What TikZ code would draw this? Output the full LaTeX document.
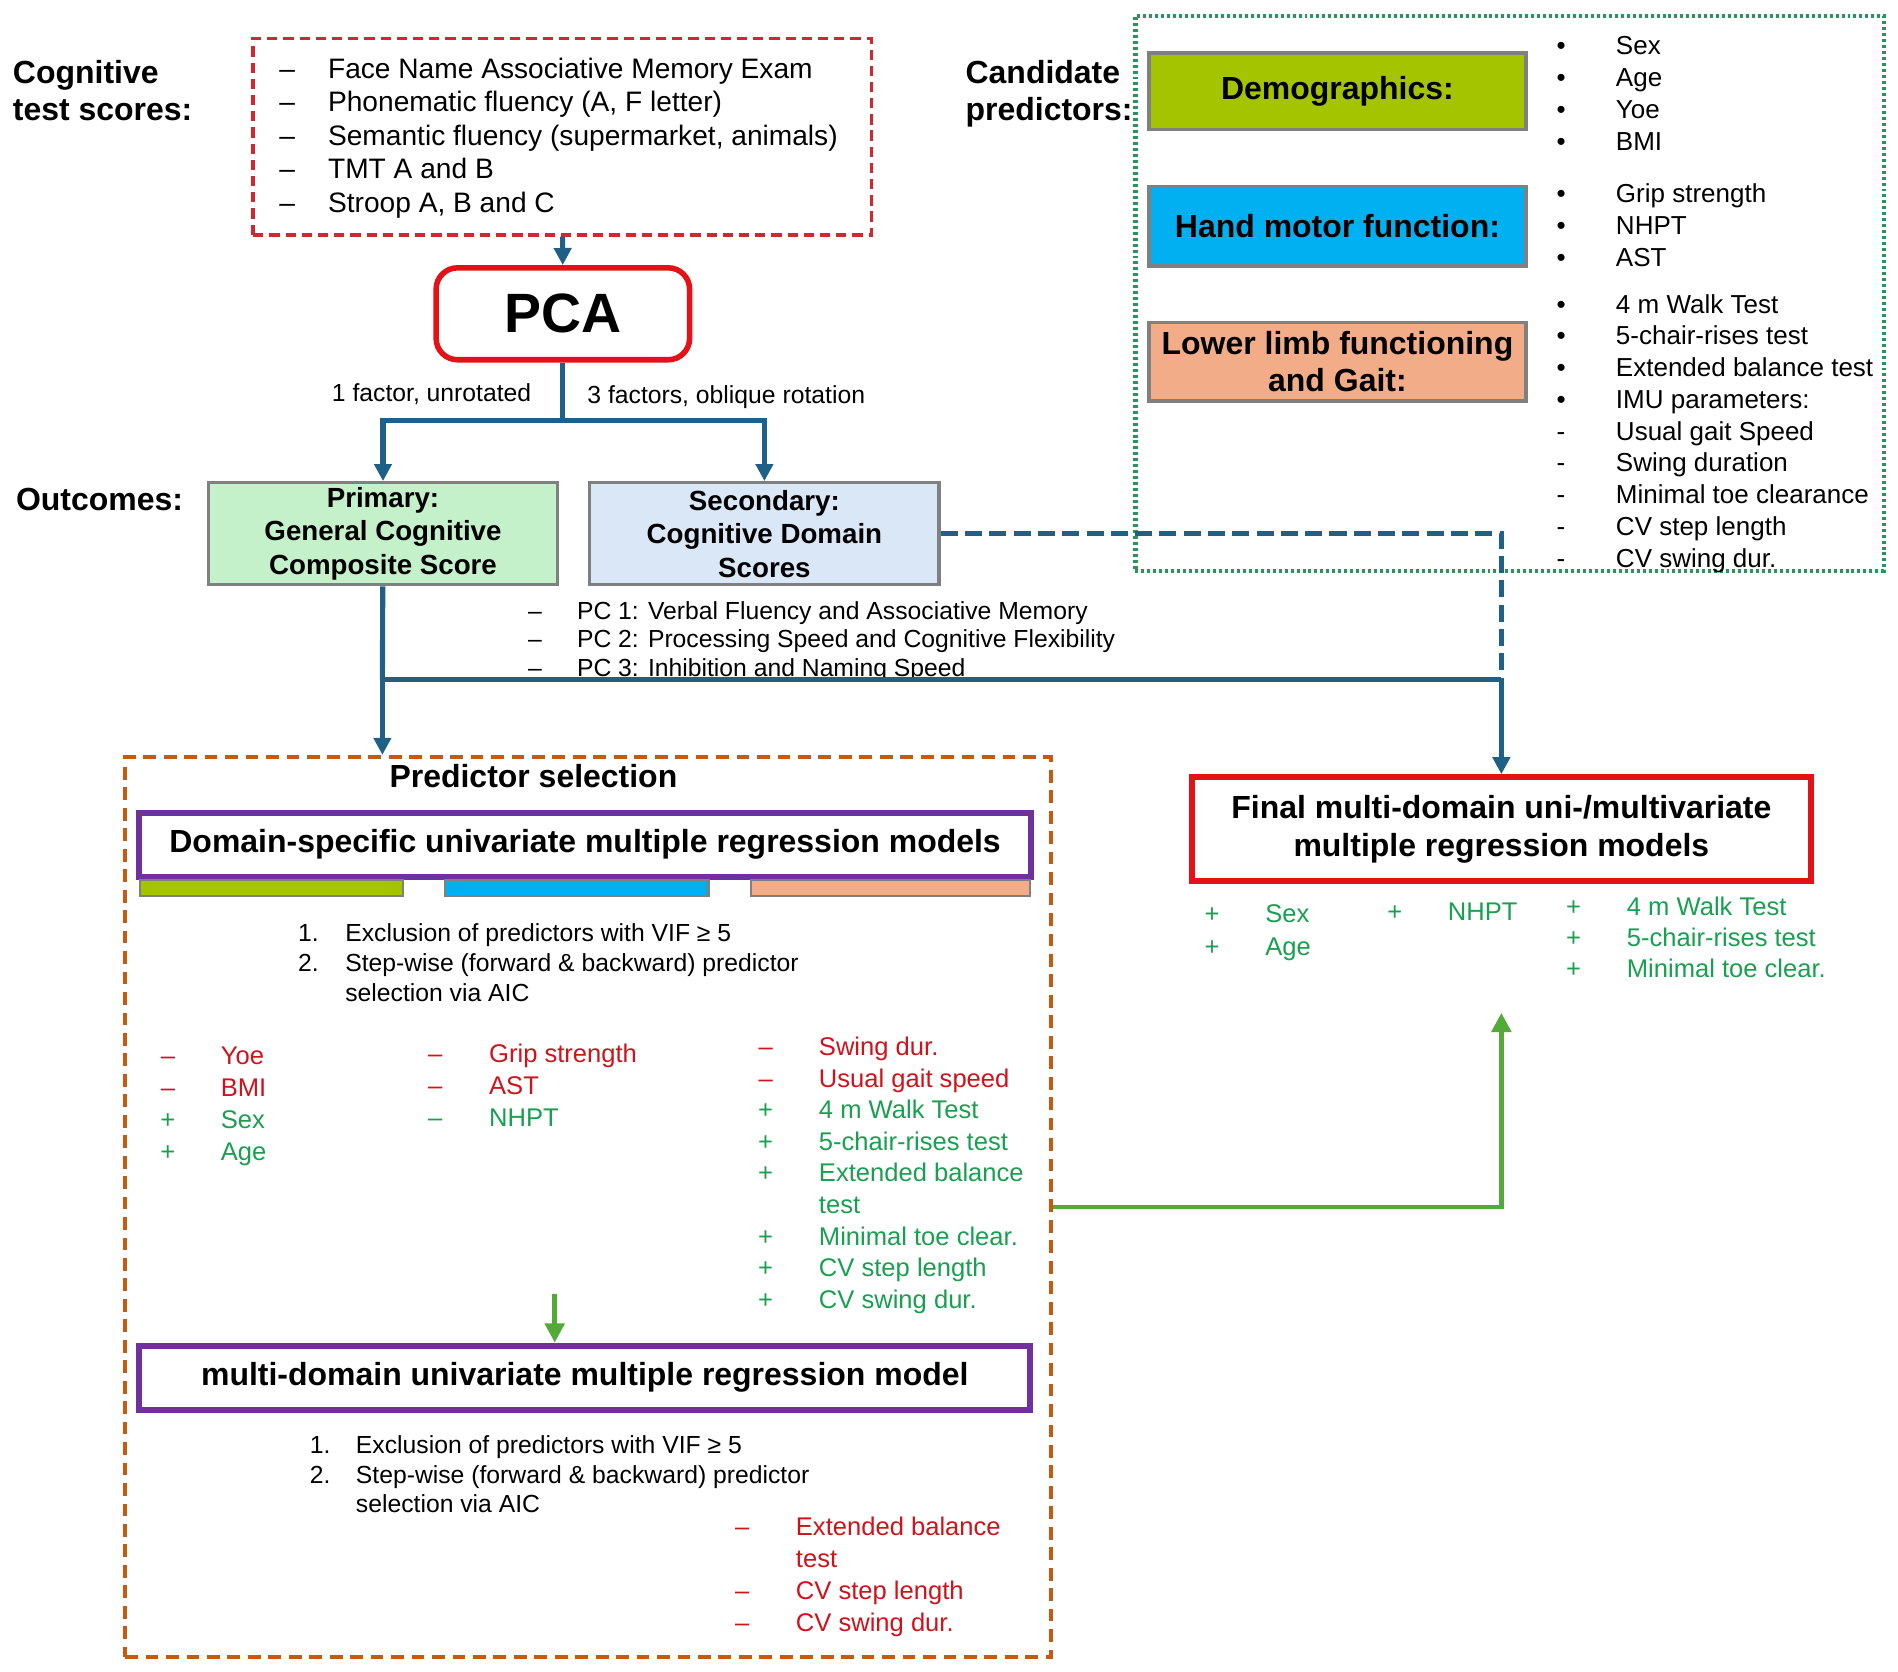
\documentclass[tikz,border=0pt]{standalone}
\usepackage{fontspec}
\setmainfont{Liberation Sans}
\usetikzlibrary{arrows.meta}

\definecolor{flowblue}{RGB}{31,96,134}
\definecolor{flowgreen}{RGB}{84,170,55}
\definecolor{boxgray}{RGB}{128,128,128}
\definecolor{boxred}{RGB}{228,18,22}
\definecolor{dashred}{RGB}{210,40,45}
\definecolor{dotgreen}{RGB}{40,150,90}
\definecolor{selbrown}{RGB}{197,90,17}
\definecolor{modpurple}{RGB}{112,48,160}
\definecolor{demogreen}{RGB}{165,196,0}
\definecolor{handcyan}{RGB}{0,176,240}
\definecolor{limbsalmon}{RGB}{242,172,136}
\definecolor{primgreen}{RGB}{196,240,202}
\definecolor{secblue}{RGB}{218,231,246}
\definecolor{txtred}{RGB}{208,18,27}
\definecolor{txtgreen}{RGB}{24,160,80}

\newcommand{\fsz}[2]{\fontsize{#1}{#2}\selectfont}
\newcommand{\rd}[1]{\textcolor{txtred}{#1}}
\newcommand{\gr}[1]{\textcolor{txtgreen}{#1}}

\begin{document}
\begin{tikzpicture}[x=0.01cm,y=-0.01cm,
    head/.style={anchor=base west,inner sep=0,align=left,font=\bfseries\fsz{7.5}{8.7}},
    txt/.style={anchor=base west,inner sep=0,align=left,font=\fsz{6}{7.45}},
    sign/.style={anchor=base,inner sep=0,align=center,font=\fsz{6}{7.45}},
    note/.style={anchor=base west,inner sep=0,font=\fsz{5.8}{7}},
    catbox/.style={draw=boxgray,line width=0.8pt,inner sep=0,minimum width=3.11cm,align=center,font=\bfseries\fsz{7.5}{8.8}},
    outbox/.style={draw=boxgray,line width=0.8pt,inner sep=0,minimum width=2.88cm,minimum height=0.84cm,align=center,font=\bfseries\fsz{6.5}{7.85}},
    modelbox/.style={draw=modpurple,line width=1.4pt,inner sep=0,minimum width=7.35cm,minimum height=0.53cm,font=\bfseries\fsz{7.5}{8.8}},
    colourbar/.style={draw=boxgray,line width=0.5pt,inner sep=0,minimum height=0.133cm},
    link/.style={draw=flowblue,line width=1.2pt},
    flow/.style={link,-{Triangle[length=4pt,width=4pt]}},
    greenflow/.style={draw=flowgreen,line width=1.1pt,-{Triangle[length=4.5pt,width=4.5pt]}}]
  \useasboundingbox (0,0) rectangle (1566,1379);

  % top: test scores and PCA (multi-line texts sit on their last baseline)
  \node[head] (cogtitle) at (10,99.4) {Cognitive\\test scores:};
  \node[draw=dashred,line width=0.8pt,dash pattern=on 2.4pt off 1.4pt,minimum width=5.10cm,minimum height=1.62cm] (tests) at (464,112.75) {};
  \node[sign,font=\fsz{6.6}{7.85}] (testsigns) at (237,175.2) {–\\–\\–\\–\\–};
  \node[txt,font=\fsz{6.6}{7.85}] (testitems) at (270,175.2) {Face Name Associative Memory Exam\\Phonematic fluency (A, F letter)\\Semantic fluency (supermarket, animals)\\TMT A and B\\Stroop A, B and C};
  \node[draw=boxred,line width=1.3pt,rounded corners=5pt,minimum width=2.09cm,minimum height=0.758cm,font=\bfseries\fsz{13}{15}] (pca) at (464.4,258.9) {PCA};
  \node[note,anchor=base east] (unrot) at (439,331.5) {1 factor, unrotated};
  \node[note] (oblique) at (484,333) {3 factors, oblique rotation};

  % outcomes
  \node[head] (outtitle) at (12.5,421.6) {Outcomes:};
  \node[outbox,fill=primgreen] (primary) at (316,440.35) {Primary:\\General Cognitive\\Composite Score};
  \node[outbox,fill=secblue] (secondary) at (630.7,440.35) {Secondary:\\Cognitive Domain\\Scores};
  \node[sign,font=\fsz{5.8}{6.7}] (pcsigns) at (441.5,558) {–\\–\\–};
  \node[txt,font=\fsz{5.8}{6.7}] (pcitems) at (475.4,558) {PC 1: Verbal Fluency and Associative Memory\\PC 2: Processing Speed and Cognitive Flexibility\\PC 3: Inhibition and Naming Speed};

  % candidate predictors
  \node[head] (candtitle) at (796,99.4) {Candidate\\predictors:};
  \node[draw=dotgreen,line width=1pt,dash pattern=on 0.7pt off 0.7pt,minimum width=6.17cm,minimum height=4.578cm] (cand) at (1245.5,242.1) {};
  \node[catbox,fill=demogreen,minimum height=0.63cm] (demo) at (1103.5,75.15) {Demographics:};
  \node[catbox,fill=handcyan,minimum height=0.656cm] (hand) at (1103.5,186.6) {Hand motor function:};
  \node[catbox,fill=limbsalmon,minimum height=0.65cm] (limb) at (1103.5,298.4) {Lower limb functioning\\and Gait:};
  \node[sign,font=\fsz{6.1}{7.45}] (demosigns) at (1288,123.8) {•\\•\\•\\•};
  \node[txt,font=\fsz{6.1}{7.45}] (demoitems) at (1332.6,123.8) {Sex\\Age\\Yoe\\BMI};
  \node[sign,font=\fsz{6.1}{7.45}] (handsigns) at (1288,219.5) {•\\•\\•};
  \node[txt,font=\fsz{6.1}{7.45}] (handitems) at (1332.6,219.5) {Grip strength\\NHPT\\AST};
  \node[sign,font=\fsz{6.1}{7.45}] (limbsigns) at (1288,468) {•\\•\\•\\•\\-\\-\\-\\-\\-};
  \node[txt,font=\fsz{6.1}{7.45}] (limbitems) at (1332.6,468) {4 m Walk Test\\5-chair-rises test\\Extended balance test\\IMU parameters:\\Usual gait Speed\\Swing duration\\Minimal toe clearance\\CV step length\\CV swing dur.};

  % predictor selection
  \node[draw=selbrown,line width=1pt,dash pattern=on 3pt off 1.8pt,minimum width=7.635cm,minimum height=7.422cm] (predbox) at (485.25,995.9) {};
  \node[head] (predtitle) at (320.7,649.8) {Predictor selection};
  \node[modelbox] (domain) at (482.75,697) {Domain-specific univariate multiple regression models};
  \node[colourbar,fill=demogreen,minimum width=2.17cm] (demobar) at (224,732.6) {};
  \node[colourbar,fill=handcyan,minimum width=2.17cm] (handbar) at (476,732.6) {};
  \node[colourbar,fill=limbsalmon,minimum width=2.303cm] (limbbar) at (734.85,732.6) {};
  \node[txt,font=\fsz{5.8}{7}] (stepnums) at (245.2,801.6) {1.\\2.};
  \node[txt,font=\fsz{5.8}{7}] (steps) at (284.2,826) {Exclusion of predictors with VIF ≥ 5\\Step-wise (forward \& backward) predictor\\selection via AIC};
  \node[sign,font=\fsz{6}{7.5}] (demosel) at (138.5,957.4) {\rd{–}\\\rd{–}\\\gr{+}\\\gr{+}};
  \node[txt,font=\fsz{6}{7.5}] (demoselitems) at (181.5,957.4) {\rd{Yoe}\\\rd{BMI}\\\gr{Sex}\\\gr{Age}};
  \node[sign,font=\fsz{6}{7.5}] (handsel) at (359,929.8) {\rd{–}\\\rd{–}\\\gr{–}};
  \node[txt,font=\fsz{6}{7.5}] (handselitems) at (402.9,929.8) {\rd{Grip strength}\\\rd{AST}\\\gr{NHPT}};
  \node[sign,font=\fsz{6}{7.41}] (limbsel) at (631.7,1079.4) {\rd{–}\\\rd{–}\\\gr{+}\\\gr{+}\\\gr{+}\\\mbox{}\\\gr{+}\\\gr{+}\\\gr{+}};
  \node[txt,font=\fsz{6}{7.41}] (limbselitems) at (675,1079.4) {\rd{Swing dur.}\\\rd{Usual gait speed}\\\gr{4 m Walk Test}\\\gr{5-chair-rises test}\\\gr{Extended balance}\\\gr{test}\\\gr{Minimal toe clear.}\\\gr{CV step length}\\\gr{CV swing dur.}};
  \coordinate (downstart) at (457.7,1067.7);
  \node[modelbox] (multi) at (482.5,1136.75) {multi-domain univariate multiple regression model};
  \node[txt,font=\fsz{5.8}{6.93}] (multinums) at (255,1223.7) {1.\\2.};
  \node[txt,font=\fsz{5.8}{6.93}] (multisteps) at (293,1248) {Exclusion of predictors with VIF ≥ 5\\Step-wise (forward \& backward) predictor\\selection via AIC};
  \node[sign,text=txtred,font=\fsz{6}{7.5}] (multisel) at (612.4,1345.8) {–\\\mbox{}\\–\\–};
  \node[txt,text=txtred,font=\fsz{6}{7.5}] (multiselitems) at (656,1345.8) {Extended balance\\test\\CV step length\\CV swing dur.};

  % final models
  \node[draw=boxred,line width=1.4pt,inner sep=0,minimum width=5.105cm,minimum height=0.857cm,align=center,font=\bfseries\fsz{7.5}{8.76}] (final) at (1238.75,684.15) {Final multi-domain uni-/multivariate\\multiple regression models};
  \node[sign,text=txtgreen,font=\fsz{6}{7.74}] (finaldemo) at (1000,788.5) {+\\+};
  \node[txt,text=txtgreen,font=\fsz{6}{7.74}] (finaldemoitems) at (1043.3,788.5) {Sex\\Age};
  \node[sign,text=txtgreen] (finalhand) at (1150.8,759.3) {+};
  \node[txt,text=txtgreen] (finalhanditems) at (1194,759.3) {NHPT};
  \node[sign,text=txtgreen,font=\fsz{6}{7.33}] (finallimb) at (1298.4,806.5) {+\\+\\+};
  \node[txt,text=txtgreen,font=\fsz{6}{7.33}] (finallimbitems) at (1341.6,806.5) {4 m Walk Test\\5-chair-rises test\\Minimal toe clear.};
  \coordinate (finalin) at (1238.75,835.7);

  % connectors
  \coordinate (split) at (464.4,347.3);
  \coordinate (join) at (315.5,561);
  \coordinate (merge) at (final.north |- join);
  \draw[flow] (tests) -- (pca);
  \draw[link] (pca) -- (split);
  \draw[flow] (split) -| (primary);
  \draw[flow] (split) -| (secondary);
  \draw[link] (primary) -- (join);
  \draw[flow] (join) -- (join |- predbox.north);
  \draw[link] (join) -- (merge);
  \draw[flow] (merge) -- (final);
  \draw[link,dash pattern=on 4pt off 1.7pt] (secondary.east) -| (merge);
  \draw[greenflow] (downstart) -- (downstart |- multi.north);
  \draw[greenflow] (predbox.east) -| (finalin);
\end{tikzpicture}
\end{document}
